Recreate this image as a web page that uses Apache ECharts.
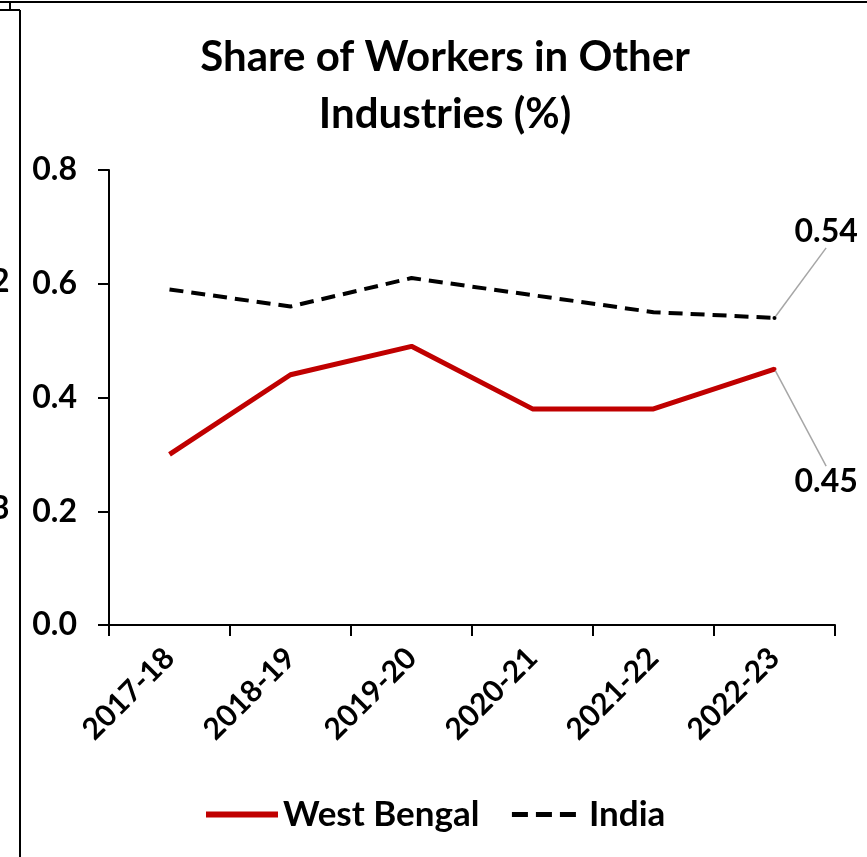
<!DOCTYPE html>
<html>
<head>
<meta charset="utf-8">
<script src="https://cdn.jsdelivr.net/npm/echarts@6/dist/echarts.min.js"></script>
<style>
  html, body { margin: 0; padding: 0; background: #fff; }
  #chart { width: 867px; height: 857px; }
</style>
</head>
<body>
<div id="chart"></div>
<script>
var years = ['2017-18', '2018-19', '2019-20', '2020-21', '2021-22', '2022-23'];
var westBengal = [0.30, 0.44, 0.49, 0.38, 0.38, 0.45];
var india = [0.59, 0.56, 0.61, 0.58, 0.55, 0.54];
var yTicks = [0, 0.2, 0.4, 0.6, 0.8];

var font = 'Lato';
var chart = echarts.init(document.getElementById('chart'));

// only the last point of each line gets a marker and a label
function lastLabel(arr) {
    return arr.map(function (v, i) {
        if (i !== arr.length - 1) return { value: v, symbolSize: 0 };
        return {
            value: v,
            symbolSize: 4,
            label: {
                show: true,
                position: 'right',
                formatter: function (p) { return p.value.toFixed(2); },
                fontFamily: font, fontWeight: 'bold', fontSize: 32, color: '#000'
            }
        };
    });
}

var option = {
    animation: false,
    title: {
        text: 'Share of Workers in Other\nIndustries (%)',
        left: 440,
        textAlign: 'center',
        top: 24,
        textStyle: { fontFamily: font, fontWeight: 'bold', fontSize: 42, lineHeight: 57, color: '#000' }
    },
    legend: {
        bottom: 20,
        left: 198,
        itemWidth: 72,
        itemHeight: 14,
        itemGap: 30,
        itemStyle: { opacity: 0 },
        textStyle: { fontFamily: font, fontWeight: 'bold', fontSize: 35, color: '#000' },
        data: [
            { name: 'West Bengal', lineStyle: { width: 6 } },
            { name: 'India', lineStyle: { width: 5, type: [16, 8] } }
        ]
    },
    grid: { left: 109, right: 32, top: 170, bottom: 232 },
    xAxis: {
        type: 'category',
        data: years,
        boundaryGap: true,
        axisLine: { lineStyle: { color: '#000', width: 2 } },
        axisTick: { show: true, length: 11, lineStyle: { color: '#000', width: 2 } },
        axisLabel: {
            rotate: 45, margin: 28,
            fontFamily: font, fontWeight: 'bold', fontSize: 30, color: '#000'
        }
    },
    yAxis: {
        type: 'value',
        min: yTicks[0],
        max: yTicks[yTicks.length - 1],
        interval: 0.2,
        splitLine: { show: false },
        axisLine: { show: true, lineStyle: { color: '#000', width: 2 } },
        axisTick: { show: true, length: 11, lineStyle: { color: '#000', width: 2 } },
        axisLabel: {
            margin: 32,
            formatter: function (v) { return v.toFixed(1); },
            fontFamily: font, fontWeight: 'bold', fontSize: 32, color: '#000'
        }
    },
    series: [
        {
            name: 'West Bengal',
            type: 'line',
            data: lastLabel(westBengal),
            symbol: 'circle',
            showSymbol: true,
            lineStyle: { color: '#c00000', width: 5 },
            itemStyle: { color: '#c00000' },
            labelLine: { show: true, lineStyle: { color: '#a6a6a6', width: 1.5 } },
            labelLayout: function (p) {
                if (p.dataIndex === westBengal.length - 1) return { dx: 13, dy: 113 };
            }
        },
        {
            name: 'India',
            type: 'line',
            data: lastLabel(india),
            symbol: 'circle',
            showSymbol: true,
            lineStyle: { color: '#000', width: 4, type: [14, 8] },
            itemStyle: { color: '#000' },
            labelLine: { show: true, lineStyle: { color: '#a6a6a6', width: 1.5 } },
            labelLayout: function (p) {
                if (p.dataIndex === india.length - 1) return { dx: 13, dy: -86 };
            }
        }
    ],
    graphic: [
        // border of the neighbouring figure, cut off at the left edge
        { type: 'line', shape: { x1: 0, y1: 2, x2: 867, y2: 2 }, style: { stroke: '#000', lineWidth: 2 } },
        { type: 'line', shape: { x1: 10, y1: 2, x2: 10, y2: 10 }, style: { stroke: '#000', lineWidth: 2 } },
        { type: 'line', shape: { x1: 0, y1: 10, x2: 20, y2: 10 }, style: { stroke: '#000', lineWidth: 2 } },
        { type: 'line', shape: { x1: 20, y1: 10, x2: 20, y2: 857 }, style: { stroke: '#000', lineWidth: 2 } },
        { type: 'text', left: -9, top: 266, style: { text: '2', fontFamily: font, fontWeight: 'bold', fontSize: 32, fill: '#000' } },
        { type: 'text', left: -9, top: 493, style: { text: '3', fontFamily: font, fontWeight: 'bold', fontSize: 32, fill: '#000' } }
    ]
};

chart.setOption(option);
</script>
</body>
</html>
